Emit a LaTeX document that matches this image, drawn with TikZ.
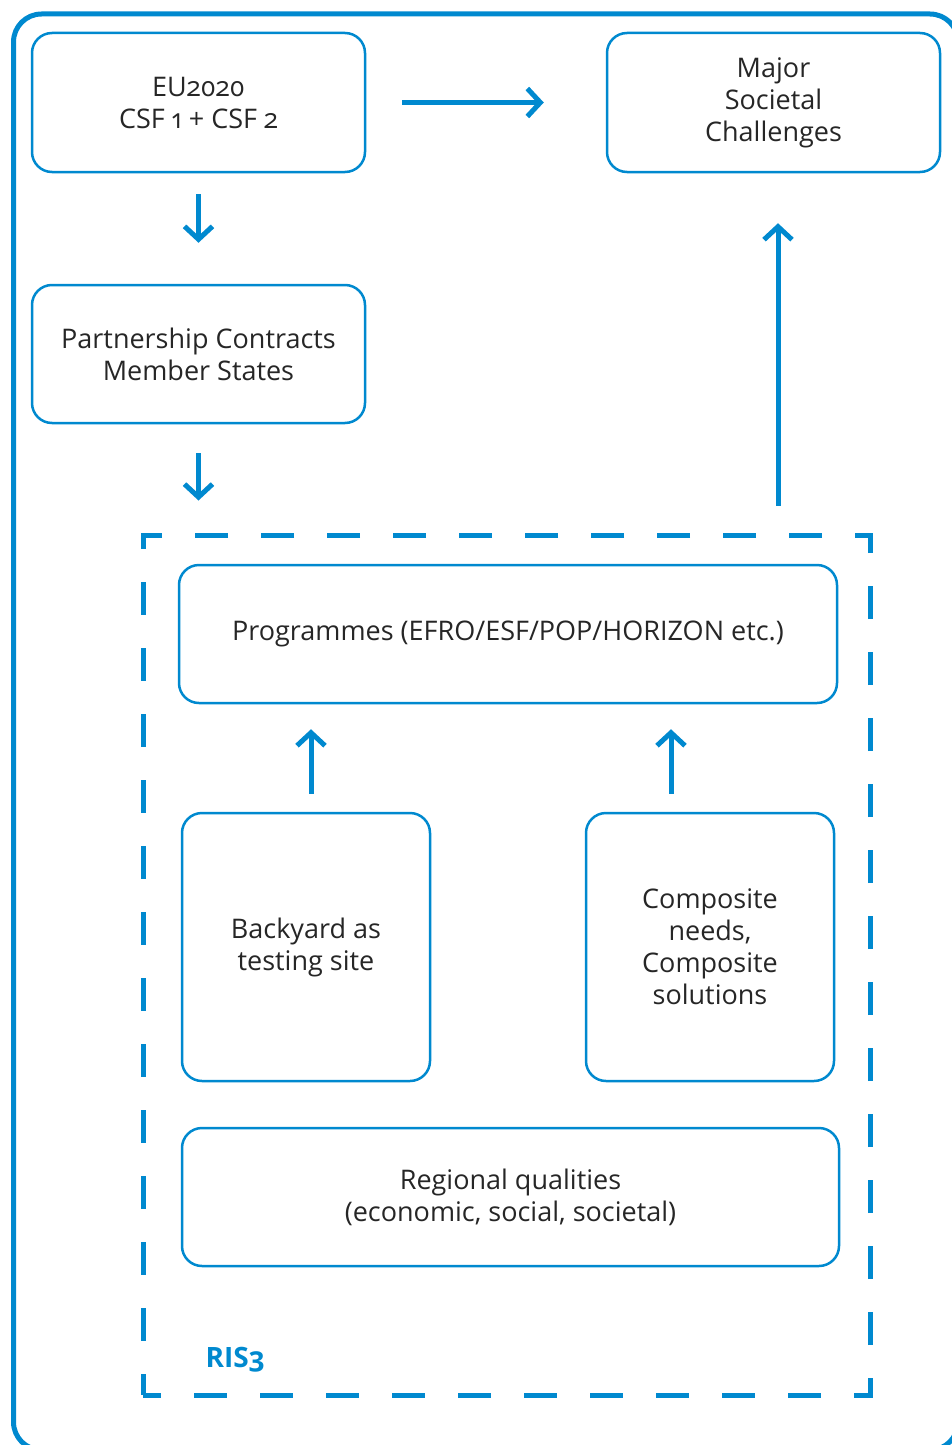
\documentclass[tikz,border=0pt]{standalone}
\usepackage{fontspec}
\setmainfont{Open Sans}[Numbers=OldStyle]
\usetikzlibrary{arrows.meta,positioning}
\definecolor{risblue}{RGB}{0,137,207}
\definecolor{txtgrey}{RGB}{38,38,38}
\tikzset{
  box/.style={draw=risblue, line width=2.5pt, rounded corners=20pt, align=center,
    text=txtgrey, inner sep=0pt, font=\fontsize{27}{32}\selectfont},
  widebox/.style={box, minimum width=333pt, minimum height=139pt},
  tallbox/.style={box, minimum width=248pt, minimum height=268pt},
  longbox/.style={box, minimum width=658pt, minimum height=138pt},
  arr/.style={draw=risblue, line width=5pt,
    -{Straight Barb[length=13pt, width=28pt, line cap=butt, line join=miter]}},
}
\begin{document}
\begin{tikzpicture}[x=1pt,y=-1pt]
\path[use as bounding box, clip] (0,0) rectangle (952,1445);
% outer frame
\draw[risblue, line width=5pt, rounded corners=28pt] (13.5,14) rectangle (958,1450);
% RIS3 frame
\node[draw=risblue, line width=5pt, dash pattern=on 33pt off 33pt, dash phase=15pt,
  minimum width=727pt, minimum height=860pt, inner sep=0pt] (ris) at (506.5,965) {};
\node[text=risblue, font=\fontsize{28}{28}\selectfont\bfseries, anchor=base west] (rislabel) at (202,1367) {RIS3};
% boxes
\node[widebox] (eu) at (198.5,102.5) {EU2020\\CSF 1 + CSF 2};
\node[widebox] (major) at (773.5,102.5) {Major\\Societal\\Challenges};
\node[widebox, minimum height=138pt] (part) at (198.5,354) {Partnership Contracts\\Member States};
\node[longbox] (prog) at (508,634) {Programmes (EFRO/ESF/POP/HORIZON etc.)};
\node[tallbox] (back) at (306,947) {Backyard as\\testing site};
\node[tallbox] (comp) at (710,947) {Composite\\needs,\\Composite\\solutions};
\node[longbox, minimum width=657pt] (reg) at (510.5,1197) {Regional qualities\\(economic, social, societal)};
% arrows
\coordinate (up) at ([xshift=4.5pt]major.south);
\coordinate (backup) at ([xshift=5pt]back.north);
\coordinate (compup) at ([xshift=-39pt]comp.north);
\draw[arr, shorten <=36pt, shorten >=62pt] (eu.east) -- (major.west);
\draw[arr, shorten <=21pt, shorten >=41pt] (eu.south) -- (part.north);
\draw[arr, shorten <=29pt, shorten >=32pt] (part.south) -- (part.south |- ris.north);
\draw[arr, shorten <=27pt, shorten >=50pt] (up |- ris.north) -- (up);
\draw[arr, shorten <=18pt, shorten >=25pt] (backup) -- (backup |- prog.south);
\draw[arr, shorten <=18pt, shorten >=25pt] (compup) -- (compup |- prog.south);
\end{tikzpicture}
\end{document}
